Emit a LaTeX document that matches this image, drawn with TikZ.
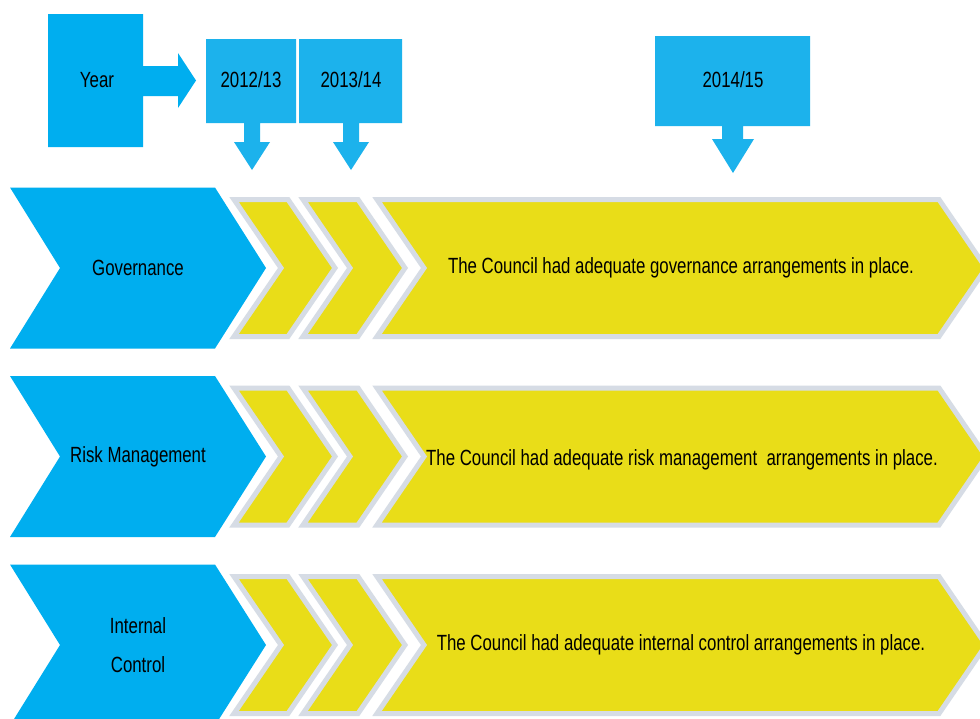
\documentclass[tikz,border=0pt]{standalone}
\usepackage{fontspec}
\setmainfont{Liberation Sans}[FakeStretch=0.765]

\definecolor{cBlue}{HTML}{00AEEF}
\definecolor{cTab}{HTML}{1CB2EC}
\definecolor{cYel}{HTML}{E9DD18}
\definecolor{cEdge}{HTML}{D6DCE5}

% blue row heading chevron, centred on height #1
\newcommand\bluechev[1]{%
  \path[bluearrow] (10,#1-80.5) -- (215,#1-80.5) -- (266,#1) -- (215,#1+80.5)
    -- (10,#1+80.5) -- (60,#1) -- cycle;}
% yellow year chevron from x=#1 to x=#2 (top corners), centred on height #3
\newcommand\yelchev[3]{%
  \path[yelarrow] (#1,#3-68.5) -- (#2,#3-68.5) -- (#2+47,#3) -- (#2,#3+68.5)
    -- (#1,#3+68.5) -- (#1+47,#3) -- cycle;}

\begin{document}
\begin{tikzpicture}[x=1pt,y=-1pt,
  bluearrow/.style={fill=cBlue},
  yelarrow/.style={fill=cYel, draw=cEdge, line width=5pt, line join=miter},
  yearbox/.style={fill=cBlue},
  tabbox/.style={fill=cTab},
  lbl/.style={inner sep=0pt, text=black, align=center,
              font=\fontsize{22}{39}\selectfont}]

\clip (0,0) rectangle (980,718);
\fill[white] (0,0) rectangle (980,718);

% --- year header callouts ---
\path[yearbox] (48,14) -- (143,14) -- (143,66) -- (178,66) -- (178,53)
  -- (196,80.5) -- (178,108) -- (178,96) -- (143,96) -- (143,147)
  -- (48,147) -- cycle;
\node[lbl] (year) at (97,80) {Year};

\path[tabbox] (206,39) -- (296,39) -- (296,123) -- (260,123) -- (260,142)
  -- (270,142) -- (252,170) -- (234,142) -- (244,142) -- (244,123)
  -- (206,123) -- cycle;
\node[lbl] (y1) at (251,80) {2012/13};

\path[tabbox] (299,39) -- (402,39) -- (402,123) -- (359,123) -- (359,142)
  -- (369,142) -- (351,170) -- (333,142) -- (343,142) -- (343,123)
  -- (299,123) -- cycle;
\node[lbl] (y2) at (351,80) {2013/14};

\path[tabbox] (655,36) -- (810,36) -- (810,126) -- (743,126) -- (743,139)
  -- (754,139) -- (733,173) -- (712,139) -- (722,139) -- (722,126)
  -- (655,126) -- cycle;
\node[lbl] (y3) at (733,80) {2014/15};

% --- the three rows of chevrons ---
\foreach \c in {268,456.5,645}{
  \bluechev{\c}
  \yelchev{234}{288}{\c}
  \yelchev{303}{358}{\c}
  \yelchev{377}{939}{\c}
}

\node[lbl] (gov)  at (138,268) {Governance};
\node[lbl] (risk) at (138,457) {Risk Management};
\node[lbl] (ctrl) at (138,645) {Internal\\Control};

\node[lbl] (govtext)  at (681,268)
  {The Council had adequate governance arrangements in place.};
\node[lbl] (risktext) at (682,460)
  {The Council had adequate risk management~ arrangements in place.};
\node[lbl] (ctrltext) at (681,645)
  {The Council had adequate internal control arrangements in place.};

\end{tikzpicture}
\end{document}
